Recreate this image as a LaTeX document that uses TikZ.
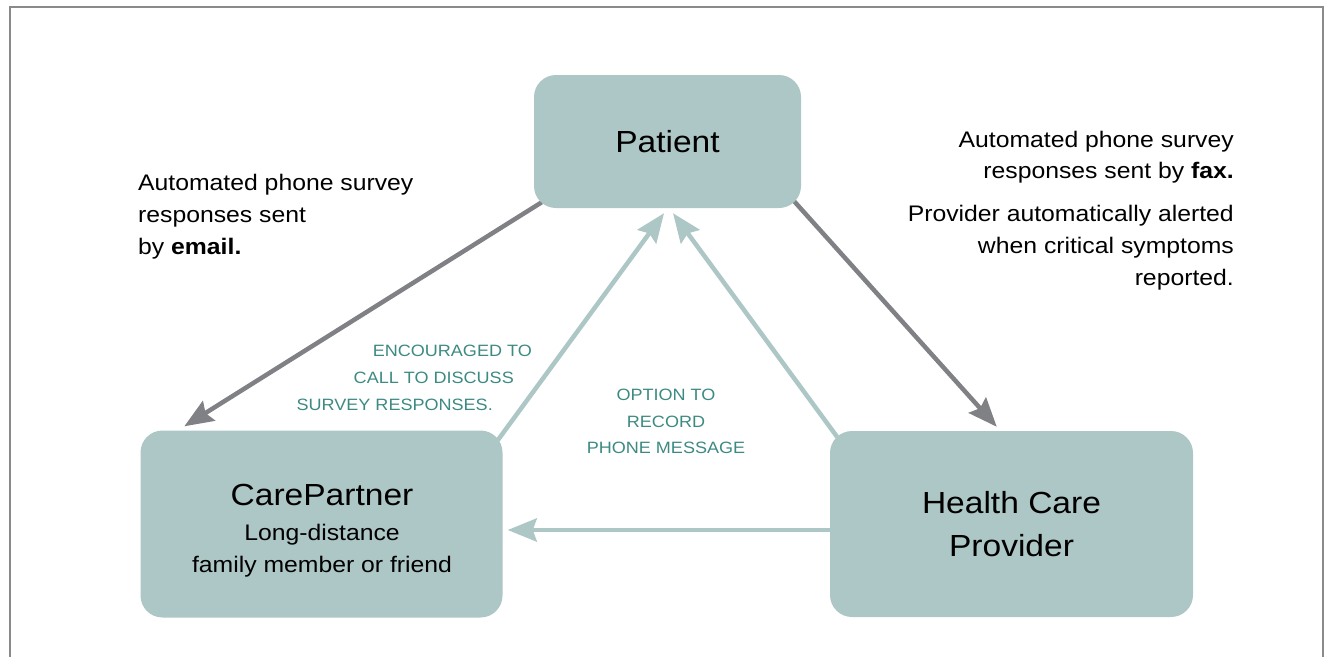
\documentclass[tikz,border=0pt]{standalone}
\usepackage{fontspec}
\setmainfont{Liberation Sans}[FakeStretch=1.1]
\usetikzlibrary{arrows.meta,calc,backgrounds}
\definecolor{boxfill}{HTML}{ADC6C6}
\definecolor{arrowgray}{HTML}{808184}
\definecolor{tealtext}{HTML}{3D8A83}
\definecolor{framegray}{HTML}{8A8A8A}
\begin{document}
\begin{tikzpicture}[x=1pt,y=-1pt,
  box/.style={fill=boxfill, draw=none, rounded corners=22pt, inner sep=0pt},
  grayarrow/.style={draw=arrowgray, line width=4.5pt, -{Stealth[length=29pt,width=23pt,inset=4pt]}},
  tealarrow/.style={draw=boxfill, line width=4.5pt, -{Stealth[length=29pt,width=23pt,inset=4pt]}},
  sidetext/.style={inner sep=0pt, font=\fontsize{22.5}{31}\selectfont},
  tealnote/.style={inner sep=0pt, text=tealtext, font=\fontsize{16.4}{20}\selectfont},
  boxtitle/.style={font=\fontsize{30.5}{43}\selectfont, align=center},
  subline/.style={inner sep=0pt, font=\fontsize{22.5}{31}\selectfont}
]
\useasboundingbox (0,0) rectangle (1325,657);
% frame
\draw[framegray, line width=2.5pt] (10,657) -- (10,7) -- (1323,7) -- (1323,657);

% boxes
\node[box, boxtitle, minimum width=267pt, minimum height=133pt] (patient) at (667.5,141.5) {Patient};
\node[box, minimum width=362pt, minimum height=187pt] (carepartner) at (321.5,524) {};
\node[box, boxtitle, minimum width=363pt, minimum height=186pt] (provider) at (1011.5,524) {Health Care\\Provider};

% CarePartner text
\node[inner sep=0pt, font=\fontsize{30.5}{36}\selectfont, anchor=base] (cptitle) at (322,505) {CarePartner};
\node[subline, anchor=base] (cpsub1) at (322,540) {Long-distance};
\node[subline, anchor=base] (cpsub2) at (322,572) {family member or friend};

% connectors
\begin{pgfonlayer}{background}
\draw[grayarrow] ($(patient.south west)+(8,-6)$) -- ($(carepartner.north west)+(44,-4)$);
\draw[grayarrow] ($(patient.south east)+(-8,-8)$) -- ($(provider.north west)+(167,-4)$);
\draw[tealarrow] ($(carepartner.north east)+(-5,10)$) -- ($(patient.south)+(-3.5,5)$);
\draw[tealarrow] ($(provider.north west)+(8,7)$) -- ($(patient.south)+(5.5,5)$);
\draw[tealarrow] ($(provider.west)+(0,6)$) -- ($(carepartner.east)+(5,6)$);
\end{pgfonlayer}

% left side text
\node[sidetext, anchor=base west] (em1) at (138,190) {Automated phone survey};
\node[sidetext, anchor=base west] (em2) at (138,222) {responses sent};
\node[sidetext, anchor=base west] (em3) at (138,254) {by \textbf{email.}};

% right side text
\node[sidetext, anchor=base east] (fx1) at (1234,147) {Automated phone survey};
\node[sidetext, anchor=base east] (fx2) at (1234,178) {responses sent by \textbf{fax.}};
\node[sidetext, anchor=base east] (al1) at (1234,221) {Provider automatically alerted};
\node[sidetext, anchor=base east] (al2) at (1234,253) {when critical symptoms};
\node[sidetext, anchor=base east] (al3) at (1234,285) {reported.};

% teal notes
\node[tealnote, anchor=base east] (enc1) at (532,356) {ENCOURAGED TO};
\node[tealnote, anchor=base east] (enc2) at (514,383) {CALL TO DISCUSS};
\node[tealnote, anchor=base east] (enc3) at (493,410) {SURVEY RESPONSES.};
\node[tealnote, anchor=base] (opt1) at (666,400) {OPTION TO};
\node[tealnote, anchor=base] (opt2) at (666,427) {RECORD};
\node[tealnote, anchor=base] (opt3) at (666,453) {PHONE MESSAGE};
\end{tikzpicture}
\end{document}
